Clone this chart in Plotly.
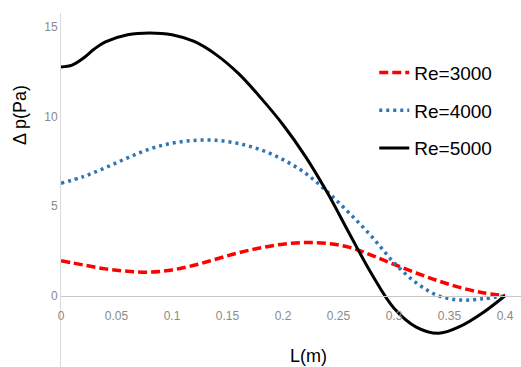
import plotly.graph_objects as go

L = [0.00, 0.02, 0.04, 0.06, 0.08, 0.10, 0.12, 0.14, 0.16, 0.18, 0.20,
     0.22, 0.24, 0.26, 0.28, 0.30, 0.32, 0.34, 0.36, 0.38, 0.40]

re3000 = [1.96, 1.72, 1.50, 1.37, 1.32, 1.44, 1.70, 2.05, 2.40, 2.68, 2.88,
          2.97, 2.92, 2.70, 2.25, 1.75, 1.27, 0.83, 0.45, 0.17, 0.00]

re4000 = [6.28, 6.65, 7.15, 7.70, 8.20, 8.52, 8.67, 8.68, 8.50, 8.15, 7.60,
          6.85, 5.80, 4.60, 3.30, 1.85, 0.72, 0.00, -0.24, -0.17, 0.00]

L5000 = [0.00, 0.01, 0.02, 0.03, 0.04, 0.06, 0.08, 0.10, 0.12, 0.14, 0.16, 0.18, 0.20,
         0.22, 0.24, 0.26, 0.28, 0.30, 0.32, 0.34, 0.36, 0.38, 0.40]
re5000 = [12.78, 12.88, 13.26, 13.78, 14.18, 14.58, 14.68, 14.58, 14.20, 13.45, 12.40, 11.05, 9.55,
          7.80, 5.75, 3.45, 1.20, -0.70, -1.75, -2.10, -1.70, -0.95, 0.00]

series_names = ["Re=3000", "Re=4000", "Re=5000"]
x_ticks = [0, 0.05, 0.1, 0.15, 0.2, 0.25, 0.3, 0.35, 0.4]
x_tick_text = ["0", "0.05", "0.1", "0.15", "0.2", "0.25", "0.3", "0.35", "0.4"]
y_ticks = [0, 5, 10, 15]
x_title = "L(m)"
y_title = "Δ p(Pa)"

y_min, y_max = -3.98, 15.79
x_min, x_max = 0, 0.4144

fig = go.Figure()
fig.add_trace(go.Scatter(x=L, y=re3000, name=series_names[0], mode="lines",
                         line=dict(color="#ff0000", width=3.5, dash="9px,4px",
                                   shape="spline", smoothing=1),
                         legendgroup="a"))
fig.add_trace(go.Scatter(x=L, y=re4000, name=series_names[1], mode="lines",
                         line=dict(color="#2e75b6", width=3.5, dash="3px,4px",
                                   shape="spline", smoothing=1),
                         legendgroup="b"))
fig.add_trace(go.Scatter(x=L5000, y=re5000, name=series_names[2], mode="lines",
                         line=dict(color="#000000", width=3, shape="spline", smoothing=1),
                         legendgroup="c"))

fig.update_layout(
    width=521, height=367,
    margin=dict(l=61, r=0, t=13, b=0),
    paper_bgcolor="white", plot_bgcolor="white",
    font=dict(family="Liberation Sans, Arial, sans-serif"),
    legend=dict(x=0.681, y=0.885, xanchor="left", yanchor="top",
                font=dict(size=19, color="black"),
                tracegroupgap=10, bgcolor="rgba(0,0,0,0)"),
    xaxis=dict(range=[x_min, x_max], tickvals=x_ticks, ticktext=x_tick_text,
               showgrid=False, zeroline=False, showline=True,
               linecolor="#c8c8c8", linewidth=1,
               anchor="free", position=(0 - y_min) / (y_max - y_min),
               ticks="outside", ticklen=9, tickcolor="rgba(0,0,0,0)",
               tickfont=dict(size=12, color="#8a8a8a")),
    yaxis=dict(range=[y_min, y_max], tickvals=y_ticks,
               showgrid=False, zeroline=False, showline=True,
               linecolor="#d9d9d9", linewidth=1,
               ticks="", ticklen=0, tickfont=dict(size=12, color="#8a8a8a")),
    annotations=[
        dict(text=y_title, xref="paper", yref="paper",
             x=(20 - 61) / 460, y=(367 - 115) / 354, textangle=-90,
             showarrow=False, font=dict(size=18, color="black"),
             xanchor="center", yanchor="middle"),
        dict(text=x_title, xref="paper", yref="paper",
             x=(308 - 61) / 460, y=(367 - 356) / 354,
             showarrow=False, font=dict(size=18, color="black"),
             xanchor="center", yanchor="middle"),
    ],
)

fig.write_html("out.html")
